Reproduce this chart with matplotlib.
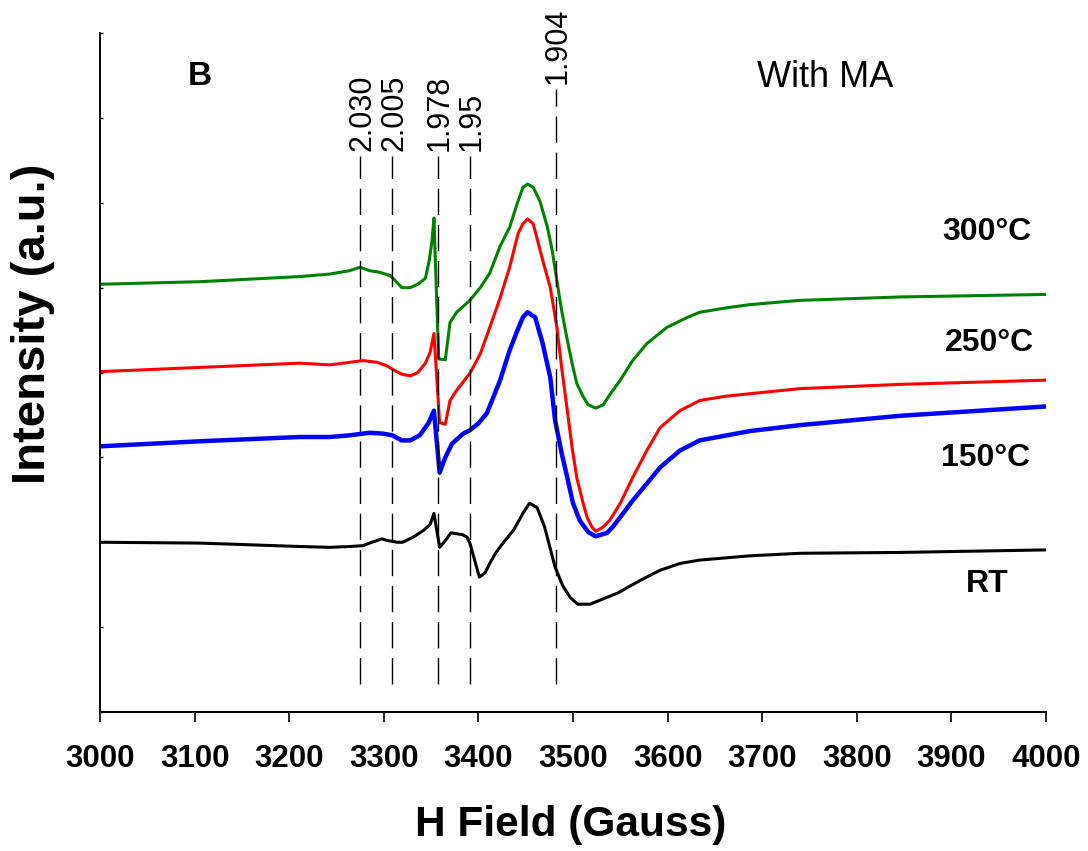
import matplotlib
matplotlib.use("Agg")
import matplotlib.pyplot as plt

plt.rcParams['font.family'] = ['Liberation Sans', 'DejaVu Sans']

# ---- data (H field in Gauss, intensity in arbitrary units) ----
h_300 = [3000, 3106, 3211, 3243, 3264, 3275, 3285, 3296, 3307, 3314, 3319, 3328,
         3336, 3344, 3348, 3351, 3353, 3358, 3365, 3370, 3377, 3391, 3402, 3412,
         3423, 3433, 3441, 3447, 3452, 3458, 3465, 3473, 3478, 3483, 3488, 3494,
         3499, 3504, 3511, 3516, 3524, 3532, 3539, 3550, 3563, 3578, 3599, 3621,
         3634, 3661, 3687, 3740, 3846, 4000]
i_300 = [5.04, 5.07, 5.13, 5.16, 5.20, 5.24, 5.20, 5.18, 5.14, 5.06, 5.00, 5.00,
         5.04, 5.11, 5.32, 5.55, 5.82, 4.16, 4.15, 4.59, 4.71, 4.85, 5.00, 5.17,
         5.49, 5.71, 5.99, 6.18, 6.22, 6.18, 6.02, 5.71, 5.44, 5.08, 4.73, 4.38,
         4.11, 3.87, 3.71, 3.62, 3.58, 3.62, 3.74, 3.91, 4.14, 4.34, 4.53, 4.65,
         4.71, 4.76, 4.80, 4.85, 4.89, 4.92]

h_250 = [3000, 3106, 3211, 3243, 3264, 3278, 3293, 3303, 3312, 3319, 3328, 3336,
         3344, 3349, 3353, 3359, 3365, 3370, 3377, 3391, 3402, 3412, 3423, 3433,
         3442, 3447, 3452, 3458, 3468, 3476, 3483, 3488, 3494, 3499, 3504, 3510,
         3515, 3520, 3524, 3532, 3539, 3550, 3563, 3578, 3592, 3613, 3634, 3661,
         3687, 3740, 3846, 4000]
i_250 = [4.01, 4.06, 4.11, 4.09, 4.12, 4.14, 4.12, 4.08, 4.02, 3.98, 3.96, 4.00,
         4.11, 4.24, 4.46, 3.41, 3.39, 3.67, 3.79, 3.99, 4.22, 4.53, 4.88, 5.24,
         5.64, 5.75, 5.81, 5.75, 5.32, 5.00, 4.53, 4.06, 3.55, 3.12, 2.76, 2.49,
         2.29, 2.18, 2.13, 2.18, 2.26, 2.46, 2.76, 3.08, 3.35, 3.55, 3.67, 3.72,
         3.75, 3.81, 3.86, 3.91]

h_150 = [3000, 3106, 3211, 3243, 3264, 3285, 3299, 3309, 3319, 3328, 3338, 3347,
         3353, 3359, 3365, 3372, 3384, 3391, 3400, 3409, 3423, 3433, 3441, 3447,
         3452, 3460, 3468, 3476, 3481, 3488, 3494, 3500, 3507, 3516, 3524, 3536,
         3542, 3553, 3563, 3578, 3592, 3613, 3634, 3687, 3740, 3846, 4000]
i_150 = [3.13, 3.19, 3.24, 3.24, 3.26, 3.29, 3.28, 3.26, 3.20, 3.20, 3.26, 3.40,
         3.55, 2.82, 3.00, 3.16, 3.28, 3.32, 3.40, 3.52, 3.91, 4.26, 4.49, 4.65,
         4.71, 4.65, 4.34, 3.94, 3.44, 3.05, 2.76, 2.46, 2.26, 2.12, 2.07, 2.11,
         2.18, 2.34, 2.49, 2.69, 2.88, 3.08, 3.20, 3.31, 3.38, 3.49, 3.60]

h_rt = [3000, 3106, 3211, 3243, 3264, 3278, 3285, 3298, 3304, 3314, 3320, 3331,
        3342, 3349, 3353, 3359, 3365, 3371, 3383, 3388, 3391, 3396, 3401, 3407,
        3412, 3418, 3426, 3437, 3447, 3454, 3462, 3470, 3481, 3489, 3497, 3505,
        3518, 3529, 3547, 3571, 3592, 3613, 3634, 3687, 3740, 3846, 4000]
i_rt = [2.00, 1.99, 1.95, 1.94, 1.95, 1.96, 1.99, 2.04, 2.02, 2.00, 2.00, 2.06,
        2.14, 2.21, 2.34, 1.94, 2.02, 2.11, 2.09, 2.06, 1.99, 1.79, 1.59, 1.64,
        1.75, 1.87, 1.99, 2.14, 2.34, 2.46, 2.41, 2.18, 1.71, 1.49, 1.35, 1.27,
        1.27, 1.32, 1.40, 1.55, 1.67, 1.75, 1.79, 1.84, 1.87, 1.88, 1.91]

g_labels = ['2.030', '2.005', '1.978', '1.95', '1.904']
g_fields = [3275, 3309, 3357, 3391, 3482]
g_tops = [6.55, 6.55, 6.55, 6.55, 7.34]

series_names = ['300°C', '250°C', '150°C', 'RT']
x_ticks = [3000, 3100, 3200, 3300, 3400, 3500, 3600, 3700, 3800, 3900, 4000]

# ---- figure ----
fig = plt.figure(figsize=(10.88, 8.51), dpi=100)
ax = fig.add_axes([100/1088, 139/851, 946/1088, 679/851])

ax.plot(h_300, i_300, color='#008000', lw=2.2, solid_joinstyle='round')
ax.plot(h_250, i_250, color='#ff0000', lw=2.2, solid_joinstyle='round')
ax.plot(h_150, i_150, color='#0000ff', lw=3.2, solid_joinstyle='round')
ax.plot(h_rt, i_rt, color='black', lw=2.2, solid_joinstyle='round')

for lab, hx, top in zip(g_labels, g_fields, g_tops):
    ax.plot([hx, hx], [0.33, top], color='black', lw=1.0, dashes=(19, 7))
    ax.text(hx + 2, top + 0.06, lab, rotation=90, ha='center', va='bottom',
            fontsize=22)

ax.set_xlim(3000, 4000)
ax.set_ylim(0, 8)
ax.set_xticks(x_ticks)
ax.set_xticklabels([str(t) for t in x_ticks], fontsize=22.5, fontweight='bold')
ax.set_yticks(range(0, 9))
ax.set_yticklabels([])
ax.tick_params(axis='x', direction='out', length=7.5, width=1.2, pad=15.5)
ax.tick_params(axis='y', direction='in', length=2, width=1.0)
for s in ['top', 'right']:
    ax.spines[s].set_visible(False)
for s in ['left', 'bottom']:
    ax.spines[s].set_linewidth(1.4)

# series labels
lab_pos = [(3938, 5.65), (3940, 4.35), (3936, 2.99), (3938, 1.51)]
for name, (px, py) in zip(series_names, lab_pos):
    ax.text(px, py, name, ha='center', va='center', fontsize=23, fontweight='bold')

ax.text(3106, 7.49, 'B', ha='center', va='center', fontsize=24, fontweight='bold')
ax.text(3767, 7.47, 'With MA', ha='center', va='center', fontsize=26)

fig.text(571/1088, 1 - 825/851, 'H Field (Gauss)', ha='center', va='center',
         fontsize=30.5, fontweight='bold')
fig.text(33/1088, 1 - 324/851, 'Intensity (a.u.)', ha='center', va='center',
         rotation=90, fontsize=34, fontweight='bold')

fig.savefig('out.png', dpi=100)
